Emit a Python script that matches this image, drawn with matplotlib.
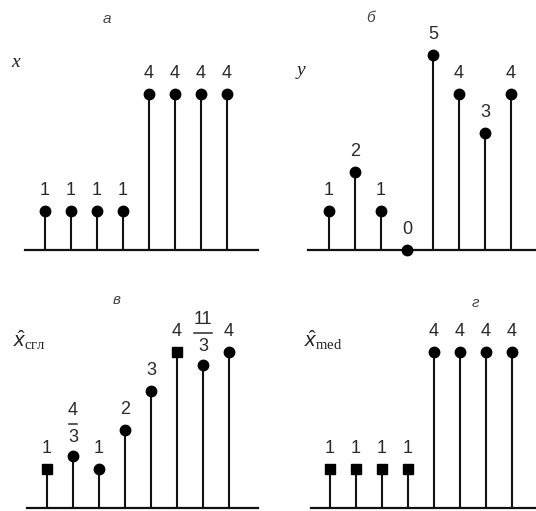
import matplotlib
matplotlib.use('Agg')
import matplotlib.pyplot as plt
from matplotlib.transforms import offset_copy

plt.rcParams['font.family'] = ['Liberation Sans', 'DejaVu Sans']
plt.rcParams['mathtext.fontset'] = 'custom'
plt.rcParams['mathtext.rm'] = 'Liberation Serif'
plt.rcParams['mathtext.it'] = 'Liberation Sans:italic'
plt.rcParams['mathtext.sf'] = 'Liberation Sans'

# data for the four panels
n = list(range(8))
x_vals = [1, 1, 1, 1, 4, 4, 4, 4]
y_vals = [1, 2, 1, 0, 5, 4, 3, 4]
smooth_vals = [1, 4/3, 1, 2, 3, 4, 11/3, 4]
med_vals = [1, 1, 1, 1, 4, 4, 4, 4]

# labels: plain strings, or (numerator, denominator) for fractions
x_labels = ['1', '1', '1', '1', '4', '4', '4', '4']
y_labels = ['1', '2', '1', '0', '5', '4', '3', '4']
smooth_labels = ['1', ('4', '3'), '1', '2', '3', '4', ('11', '3'), '4']
med_labels = ['1', '1', '1', '1', '4', '4', '4', '4']

# marker shapes as seen in the picture
round_marks = ['o'] * 8
smooth_marks = ['s', 'o', 'o', 'o', 'o', 's', 'o', 'o']
med_marks = ['s', 's', 's', 's', 'o', 'o', 'o', 'o']

W, H = 536, 511
DX, DY = 26.0, 39.0
XLO, XHI = -1.3, 8.4
YLO, YHI = -0.4, 6.2

fig = plt.figure(figsize=(W / 100, H / 100), dpi=100)


def make_ax(x0, base):
    left = (x0 + XLO * DX) / W
    bottom = (H - (base - YLO * DY)) / H
    ax = fig.add_axes([left, bottom, (XHI - XLO) * DX / W, (YHI - YLO) * DY / H])
    ax.set_xlim(XLO, XHI)
    ax.set_ylim(YLO, YHI)
    ax.axis('off')
    return ax


num_kw = dict(textcoords='offset points', ha='center', va='center',
              fontsize=13, color='#2a2a2a')


def draw(ax, vals, labels, marks, base_lo, base_hi):
    ax.plot([base_lo, base_hi], [0, 0], color='#111111', lw=1.6, clip_on=False)
    ax.vlines(n, 0, vals, color='#111111', lw=1.5)
    for i, v, lab, m in zip(n, vals, labels, marks):
        ax.plot(i, v, marker=m, color='black', ms=6.5 if m == 's' else 7.5,
                clip_on=False)
        if isinstance(lab, tuple):
            top, bot = lab
            ax.annotate(top, (i, v), xytext=(0, 33), **num_kw)
            ax.annotate(bot, (i, v), xytext=(0, 13.5), **num_kw)
            bar = offset_copy(ax.transData, fig=fig, x=0, y=23, units='points')
            hw = 0.17 * len(top)
            ax.plot([i - hw, i + hw], [v, v], color='#2a2a2a', lw=1.1,
                    transform=bar, clip_on=False)
        else:
            ax.annotate(lab, (i, v), xytext=(0, 14.5), **num_kw)


title_kw = dict(fontsize=11, style='italic', color='#444444', ha='center', va='center')
name_kw = dict(family='Liberation Serif', style='italic', fontsize=14,
               color='#222222', ha='center', va='center')

# а
ax = make_ax(45, 250)
draw(ax, x_vals, x_labels, round_marks, -0.77, 8.2)
ax.text(2.4, 5.92, 'а', **title_kw)
ax.text(-1.15, 4.8, 'x', **name_kw)

# б
ax = make_ax(329, 250)
draw(ax, y_vals, y_labels, round_marks, -0.8, 8.1)
ax.text(1.6, 5.95, 'б', **title_kw)
ax.text(-1.08, 4.6, 'y', **name_kw)

# в
ax = make_ax(47, 508)
draw(ax, smooth_vals, smooth_labels, smooth_marks, -0.77, 8.1)
ax.text(2.7, 5.33, 'в', **title_kw)
ax.text(-1.3, 4.3, r'$\hat{x}_{\mathrm{сгл}}$', fontsize=15, color='#222222',
        ha='left', va='center')

# г
ax = make_ax(330, 508)
draw(ax, med_vals, med_labels, med_marks, -0.73, 8.1)
ax.text(5.6, 5.26, 'г', **title_kw)
ax.text(-1.0, 4.3, r'$\hat{x}_{\mathrm{med}}$', fontsize=15, color='#222222',
        ha='left', va='center')

fig.savefig('out.png', dpi=100)
